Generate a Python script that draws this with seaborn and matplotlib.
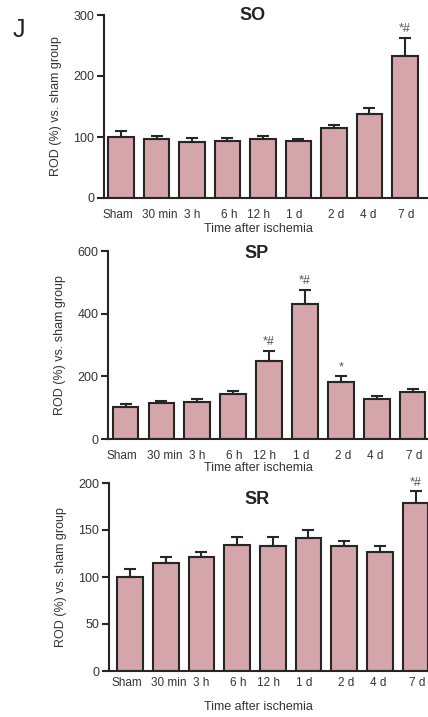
import numpy as np
import pandas as pd
import matplotlib
matplotlib.use("Agg")
import matplotlib.pyplot as plt
import matplotlib.transforms as mtransforms
import seaborn as sns

categories = ["Sham", "30 min", "3 h", "6 h", "12 h", "1 d", "2 d", "4 d", "7 d"]

so_values = [100, 96, 92, 93, 97, 93, 115, 138, 232]
so_err = [10, 6, 7, 5, 5, 4, 4, 9, 31]
so_marks = ["", "", "", "", "", "", "", "", "*#"]

sp_values = [102, 115, 118, 145, 249, 430, 181, 128, 150]
sp_err = [10, 6, 10, 8, 32, 46, 19, 10, 10]
sp_marks = ["", "", "", "", "*#", "*#", "*", "", ""]

sr_values = [100, 114.5, 121, 134.5, 132.5, 141.5, 133.5, 127, 178.5]
sr_err = [8.5, 7, 6, 8.3, 10.3, 8.5, 5.3, 5.5, 12.5]
sr_marks = ["", "", "", "", "", "", "", "", "*#"]

sns.set_style("ticks")
plt.rcParams["font.family"] = ["Liberation Sans", "DejaVu Sans"]

BAR = "#d4a6a9"
EDGE = "#262626"
TXT = "#333333"

fig = plt.figure(figsize=(4.28, 7.17), dpi=100)
W, H = 428.0, 717.0

# small horizontal nudges (points) of tick labels, as in the reference
label_nudge = [-2.5, 2.5, 0, 1, -3, -3, 1.5, -1, 1]

panels = [
    dict(name="SO", vals=so_values, err=so_err, marks=so_marks, ylim=300, ticks=[0, 100, 200, 300],
         axl=104, top=15, bot=198, xl=(-0.48, 8.65), title_xy=(253, 16), xlab_y=229, tickpad=5),
    dict(name="SP", vals=sp_values, err=sp_err, marks=sp_marks, ylim=600, ticks=[0, 200, 400, 600],
         axl=108, top=251, bot=439, xl=(-0.49, 8.43), title_xy=(257, 254), xlab_y=468, tickpad=5),
    dict(name="SR", vals=sr_values, err=sr_err, marks=sr_marks, ylim=200, ticks=[0, 50, 100, 150, 200],
         axl=109, top=483, bot=671, xl=(-0.59, 8.35), title_xy=(257, 500), xlab_y=707, tickpad=1),
]

for p in panels:
    ax = fig.add_axes([p["axl"] / W, 1 - p["bot"] / H, (W - p["axl"]) / W, (p["bot"] - p["top"]) / H])
    df = pd.DataFrame({"time": categories, "rod": p["vals"]})
    sns.barplot(data=df, x="time", y="rod", order=categories, ax=ax, color=BAR,
                edgecolor=EDGE, linewidth=1.5, width=0.72, errorbar=None, saturation=1)
    xs = np.arange(len(categories))
    ax.errorbar(xs, p["vals"], yerr=[np.zeros(len(xs)), p["err"]], fmt="none",
                ecolor=EDGE, elinewidth=1.5, capsize=4, capthick=1.5, zorder=1)
    for x, v, e, m in zip(xs, p["vals"], p["err"], p["marks"]):
        if m:
            ax.annotate(m, (x, v + e), xytext=(0, 2), textcoords="offset points",
                        ha="center", va="bottom", fontsize=9, color="#555555")
    ax.set_xlim(*p["xl"])
    ax.set_ylim(0, p["ylim"])
    ax.set_yticks(p["ticks"])
    ax.set_yticklabels([str(t) for t in p["ticks"]])
    ax.set_xlabel("")
    ax.set_ylabel("ROD (%) vs. sham group", fontsize=9, color=TXT, labelpad=8)
    ax.tick_params(axis="x", length=0, labelsize=8.5, labelcolor=TXT, pad=p["tickpad"] + 3)
    ax.tick_params(axis="y", length=5, width=1.5, color=EDGE, labelsize=9, labelcolor=TXT, pad=2)
    for lab, dx in zip(ax.get_xticklabels(), label_nudge):
        lab.set_transform(lab.get_transform() +
                          mtransforms.ScaledTranslation(dx / 72, 0, fig.dpi_scale_trans))
    sns.despine(ax=ax, top=True, right=True)
    for s in ("left", "bottom"):
        ax.spines[s].set_linewidth(1.5)
        ax.spines[s].set_color(EDGE)
    ax.patch.set_alpha(0)
    fig.text(p["title_xy"][0] / W, 1 - p["title_xy"][1] / H, p["name"], ha="center", va="center",
             fontsize=13, fontweight="bold", color="#222222")
    fig.text(258 / W, 1 - p["xlab_y"] / H, "Time after ischemia", ha="center", va="center",
             fontsize=9, color=TXT)

fig.text(19 / W, 1 - 30 / H, "J", ha="center", va="center", fontsize=18, color="#222222")

fig.savefig("out.png", dpi=100)
